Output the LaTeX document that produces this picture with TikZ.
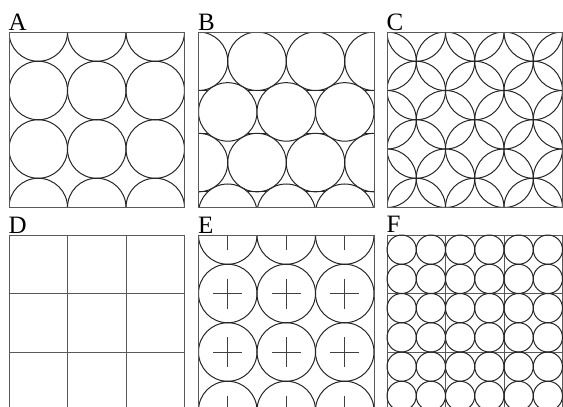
\documentclass[tikz,border=0pt]{standalone}
\usepackage{fontspec}
\setmainfont{Liberation Serif}
\begin{document}
\begin{tikzpicture}[x=1pt,y=-1pt,
  circ/.style={draw=black!85,line width=1pt},
  crossline/.style={draw=black!75,line width=0.75pt},
  frame/.style={draw=black!65,line width=0.85pt},
  lab/.style={anchor=base west,inner sep=0pt,font=\fontsize{25}{25}\selectfont}]
\useasboundingbox (0,0) rectangle (563,407);
\clip (0,0) rectangle (563,407);
\def\S{175.5}
\def\C{58.5}
\def\R{29.25}
% ---------- A ----------
\begin{scope}[shift={(9,32)}]
  \begin{scope}
    \clip (0,0) rectangle (\S,\S);
    \foreach \i in {0,1,2} \foreach \j in {0,...,3}
      \draw[circ] ({\R+\C*\i},{\C*\j}) circle[radius=\R pt];
  \end{scope}
  \draw[frame] (0,0) rectangle (\S,\S);
\end{scope}
\node[lab] (la) at (8.5,30) {A};
% ---------- B ----------
\begin{scope}[shift={(198.5,32)}]
  \begin{scope}
    \clip (0,0) rectangle (\S,\S);
    \foreach \yy in {2*\R, 2*\R*sqrt(3), 2*\R*sqrt(3)+2*\R}
      \draw[circ] (0,{\yy}) -- (\S,{\yy});
    \foreach \k in {0,2} \foreach \i in {0,...,3}
      \draw[circ] ({2*\R*\i},{\R+\k*\R*sqrt(3)}) circle[radius=\R pt];
    \foreach \k in {1,3} \foreach \i in {0,1,2}
      \draw[circ,fill=white] ({\R+2*\R*\i},{\R+\k*\R*sqrt(3)}) circle[radius=\R pt];
  \end{scope}
  \draw[frame] (0,0) rectangle (\S,\S);
\end{scope}
\node[lab] (lb) at (198,30) {B};
% ---------- C ----------
\begin{scope}[shift={(387,32)}]
  \begin{scope}
    \clip (0,0) rectangle (\S,\S);
    \foreach \i in {0,...,6} \foreach \j in {0,...,6} {
      \pgfmathtruncatemacro\myparity{mod(\i+\j,2)}
      \ifnum\myparity=1 \draw[circ] ({\R*\i},{\R*\j}) circle[radius=\R pt]; \fi
    }
  \end{scope}
  \draw[frame] (0,0) rectangle (\S,\S);
\end{scope}
\node[lab] (lc) at (386.5,30) {C};
% ---------- D ----------
\begin{scope}[shift={(9,235)}]
  \draw[frame] (0,0) rectangle (\S,\S);
  \foreach \t in {1,2} {
    \draw[frame] ({\C*\t},0) -- ({\C*\t},\S);
    \draw[frame] (0,{\C*\t}) -- (\S,{\C*\t});
  }
\end{scope}
\node[lab] (ld) at (8.5,233) {D};
% ---------- E ----------
\begin{scope}[shift={(198.5,235)}]
  \begin{scope}
    \clip (0,0) rectangle (\S,\S);
    \foreach \i in {0,1,2} \foreach \j in {0,...,3} {
      \draw[circ] ({\R+\C*\i},{\C*\j}) circle[radius=\R pt];
      \draw[crossline] ({\R+\C*\i-14.5},{\C*\j}) -- ({\R+\C*\i+14.5},{\C*\j});
      \draw[crossline] ({\R+\C*\i},{\C*\j-15}) -- ({\R+\C*\i},{\C*\j+15});
    }
  \end{scope}
  \draw[frame] (0,0) rectangle (\S,\S);
\end{scope}
\node[lab] (le) at (198,233) {E};
% ---------- F ----------
\begin{scope}[shift={(387,235)}]
  \draw[frame] (0,0) rectangle (\S,\S);
  \foreach \t in {1,2} {
    \draw[frame] ({\C*\t},0) -- ({\C*\t},\S);
    \draw[frame] (0,{\C*\t}) -- (\S,{\C*\t});
  }
  \foreach \i in {0,...,5} \foreach \j in {0,...,5}
    \draw[circ] ({\R/2+\R*\i},{\R/2+\R*\j}) circle[radius=\R/2 pt];
\end{scope}
\node[lab] (lf) at (386.5,232) {F};
\end{tikzpicture}
\end{document}
